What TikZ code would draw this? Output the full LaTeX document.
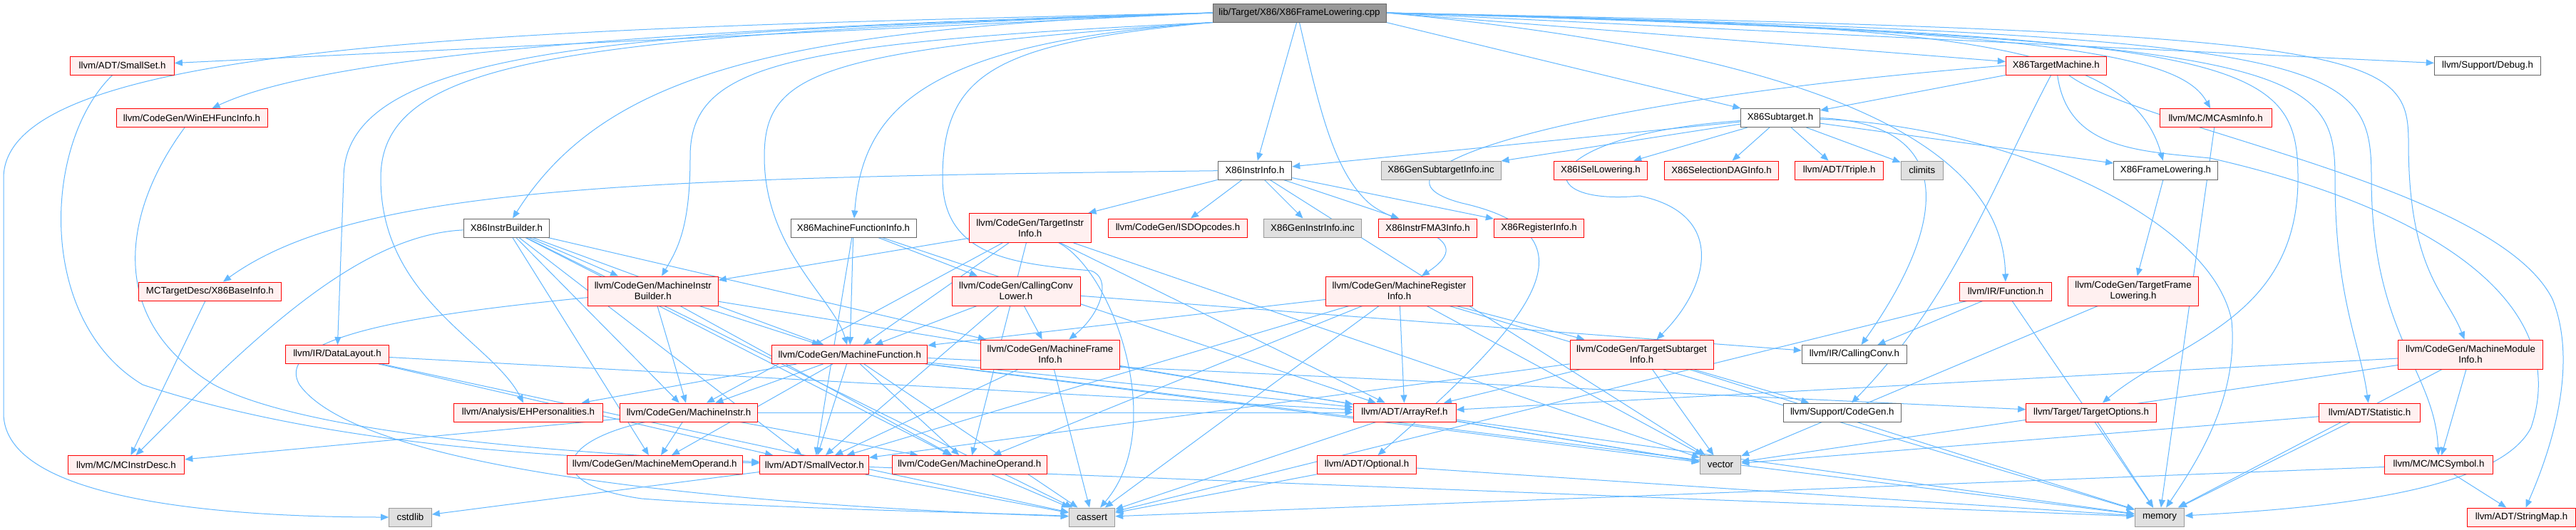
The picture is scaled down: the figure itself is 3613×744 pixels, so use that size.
\documentclass[tikz,border=0pt]{standalone}
\usepackage{fontspec}
\setmainfont{Liberation Sans}
\usetikzlibrary{arrows.meta,backgrounds}
\definecolor{edgec}{HTML}{63B8FF}
\definecolor{redb}{HTML}{FF0000}
\definecolor{redf}{HTML}{FFF0F0}
\definecolor{grayf}{HTML}{E0E0E0}
\definecolor{grayb}{HTML}{999999}
\definecolor{mainf}{HTML}{999999}
\definecolor{whiteb}{HTML}{666666}
\newcommand{\nodefontx}{\fontsize{13.3}{15}\selectfont}
\begin{document}
\begin{tikzpicture}[x=1pt,y=-1pt,
  box/.style={rectangle, minimum height=26pt, inner xsep=3pt, inner ysep=0pt, line width=1pt, font=\nodefontx, align=center, text=black},
  redbox/.style={box, draw=redb, fill=redf},
  whitebox/.style={box, draw=whiteb, fill=white},
  graybox/.style={box, draw=grayb, fill=grayf},
  mainbox/.style={box, draw=whiteb, fill=mainf},
  tall/.style={minimum height=41pt},
  e/.style={draw=edgec, line width=1pt, -{Triangle[length=11pt,width=9pt]}}]
\useasboundingbox (0,0) rectangle (3613,744);
% rank 0
\node[mainbox, minimum width=243pt] (main) at (1822.5,18) {lib/Target/X86/X86FrameLowering.cpp};
% rank 1
\node[redbox, minimum width=145.5pt] (smallset) at (171.6,92) {llvm/ADT/SmallSet.h};
\node[redbox, minimum width=141pt] (tm) at (2883.8,92) {X86TargetMachine.h};
\node[whitebox, minimum width=149.5pt] (debug) at (3489,92) {llvm/Support/Debug.h};
% rank 2
\node[redbox, minimum width=212pt] (wineh) at (269,165.5) {llvm/CodeGen/WinEHFuncInfo.h};
\node[whitebox, minimum width=111pt] (subtarget) at (2497,165.5) {X86Subtarget.h};
\node[redbox, minimum width=157pt] (mcasm) at (3107.6,165.5) {llvm/MC/MCAsmInfo.h};
% rank 3
\node[whitebox, minimum width=103.6pt] (instrinfo) at (1760,239) {X86InstrInfo.h};
\node[graybox, minimum width=168pt] (gensub) at (2021,239) {X86GenSubtargetInfo.inc};
\node[redbox, minimum width=130.5pt] (isel) at (2245,239) {X86ISelLowering.h};
\node[redbox, minimum width=160.7pt] (dag) at (2414.5,239) {X86SelectionDAGInfo.h};
\node[redbox, minimum width=123.8pt] (triple) at (2579.7,239) {llvm/ADT/Triple.h};
\node[graybox, minimum width=59.3pt] (climits) at (2695.7,239) {climits};
\node[whitebox, minimum width=145.7pt] (x86fl) at (3037.5,239) {X86FrameLowering.h};
% rank 4
\node[whitebox, minimum width=120.6pt] (instrbuilder) at (710.5,320) {X86InstrBuilder.h};
\node[whitebox, minimum width=176pt] (mfi) at (1197,320) {X86MachineFunctionInfo.h};
\node[redbox, tall, minimum width=171pt] (tii) at (1444.7,320) {llvm/CodeGen/TargetInstr\\Info.h};
\node[redbox, minimum width=194.5pt] (isd) at (1652,320) {llvm/CodeGen/ISDOpcodes.h};
\node[graybox, minimum width=137pt] (geninstr) at (1841,320) {X86GenInstrInfo.inc};
\node[redbox, minimum width=138pt] (fma3) at (2002.5,320) {X86InstrFMA3Info.h};
\node[redbox, minimum width=126.5pt] (reginfo) at (2158.6,320) {X86RegisterInfo.h};
% rank 5
\node[redbox, minimum width=199.7pt] (baseinfo) at (294.4,409) {MCTargetDesc/X86BaseInfo.h};
\node[redbox, tall, minimum width=183pt] (mib) at (915.8,408.5) {llvm/CodeGen/MachineInstr\\Builder.h};
\node[redbox, tall, minimum width=180pt] (cclower) at (1425,408.5) {llvm/CodeGen/CallingConv\\Lower.h};
\node[redbox, tall, minimum width=206.4pt] (mri) at (1962.5,408.5) {llvm/CodeGen/MachineRegister\\Info.h};
\node[redbox, minimum width=128.5pt] (function) at (2813,409) {llvm/IR/Function.h};
\node[redbox, tall, minimum width=182.4pt] (tfl) at (2992,408.5) {llvm/CodeGen/TargetFrame\\Lowering.h};
% rank 6
\node[redbox, minimum width=145pt] (datalayout) at (473,497.5) {llvm/IR/DataLayout.h};
\node[redbox, minimum width=218pt] (mf) at (1191.8,497.5) {llvm/CodeGen/MachineFunction.h};
\node[redbox, tall, minimum width=194.5pt] (mframe) at (1473,497.5) {llvm/CodeGen/MachineFrame\\Info.h};
\node[redbox, tall, minimum width=201pt] (tsi) at (2302.5,497.5) {llvm/CodeGen/TargetSubtarget\\Info.h};
\node[whitebox, minimum width=147.5pt] (callingconv) at (2601,497.5) {llvm/IR/CallingConv.h};
\node[redbox, tall, minimum width=202.4pt] (mmi) at (3465,497.5) {llvm/CodeGen/MachineModule\\Info.h};
% rank 7
\node[redbox, minimum width=208.4pt] (ehpers) at (741,579) {llvm/Analysis/EHPersonalities.h};
\node[redbox, minimum width=193pt] (minstr) at (966,579) {llvm/CodeGen/MachineInstr.h};
\node[redbox, minimum width=144pt] (arrayref) at (1970,579) {llvm/ADT/ArrayRef.h};
\node[whitebox, minimum width=164.5pt] (supcodegen) at (2583.8,579) {llvm/Support/CodeGen.h};
\node[redbox, minimum width=182.5pt] (topts) at (2933,579) {llvm/Target/TargetOptions.h};
\node[redbox, minimum width=141.5pt] (statistic) at (3323.5,579) {llvm/ADT/Statistic.h};
% rank 8
\node[redbox, minimum width=163.7pt] (mcinstrdesc) at (177,652.5) {llvm/MC/MCInstrDesc.h};
\node[redbox, minimum width=246pt] (mmo) at (918.3,652.5) {llvm/CodeGen/MachineMemOperand.h};
\node[redbox, minimum width=153pt] (smallvec) at (1142.3,652.5) {llvm/ADT/SmallVector.h};
\node[redbox, minimum width=217.5pt] (mop) at (1359.8,652.5) {llvm/CodeGen/MachineOperand.h};
\node[redbox, minimum width=139pt] (optional) at (1917,652.5) {llvm/ADT/Optional.h};
\node[graybox, minimum width=57.5pt] (vector) at (2413,652.5) {vector};
\node[redbox, minimum width=152pt] (mcsymbol) at (3420.5,652.5) {llvm/MC/MCSymbol.h};
% rank 9
\node[graybox, minimum width=59.7pt] (cstdlib) at (575.5,726) {cstdlib};
\node[graybox, minimum width=64.5pt] (cassert) at (1531.5,726) {cassert};
\node[graybox, minimum width=69.7pt] (memory) at (3029,726) {memory};
\node[redbox, minimum width=152pt] (stringmap) at (3536.5,726) {llvm/ADT/StringMap.h};

\begin{pgfonlayer}{background}
\fill[white] (0,0) rectangle (3613,744);
% ---- main
\draw[e] (main.west) -- (smallset);
\draw[e] (main.west) .. controls (900,40) and (450,80) .. (wineh);
\draw[e] (main.west) .. controls (700,40) and (5,60) .. (5,250) -- (5,580) .. controls (5,700) and (300,726) .. (cstdlib);
\draw[e] (main.west) .. controls (1100,40) and (850,100) .. (instrbuilder);
\draw[e] (main.west) .. controls (900,45) and (482,60) .. (482,250) -- (datalayout);
\draw[e] (main.west) .. controls (800,50) and (534,80) .. (534,250) .. controls (534,420) and (690,480) .. (ehpers);
\draw[e] (main.south west) .. controls (1300,60) and (1210,150) .. (mfi);
\draw[e] (main.south west) .. controls (1100,60) and (968,90) .. (968,220) .. controls (968,320) and (950,350) .. (mib);
\draw[e] (main.south west) .. controls (1150,70) and (1072,100) .. (1072,220) .. controls (1072,350) and (1170,420) .. (mf);
\draw[e] (main.south west) .. controls (1400,60) and (1322,100) .. (1322,250) .. controls (1322,360) and (1420,370) .. (1530,380) .. controls (1560,390) and (1545,440) .. (mframe);
\draw[e] (main) -- (instrinfo);
\draw[e] (main.south) .. controls (1850,150) and (1870,240) .. (1920,285) .. controls (1960,320) and (2080,330) .. (mri);
\draw[e] (main.south east) -- (subtarget);
\draw[e] (main.east) -- (tm);
\draw[e] (main.east) .. controls (2700,35) and (2985,50) .. (x86fl);
\draw[e] (main.east) .. controls (2600,80) and (2810,220) .. (function);
\draw[e] (main.east) .. controls (2900,40) and (3060,80) .. (mcasm);
\draw[e] (main.east) -- (debug);
\draw[e] (main.east) .. controls (3150,50) and (3223,80) .. (3223,250) .. controls (3223,450) and (3050,480) .. (topts);
\draw[e] (main.east) .. controls (3220,55) and (3275,90) .. (3275,250) .. controls (3275,420) and (3310,480) .. (statistic);
\draw[e] (main.east) .. controls (3280,50) and (3326,80) .. (3326,250) .. controls (3326,470) and (3415,520) .. (mcsymbol);
\draw[e] (main.east) .. controls (3330,45) and (3378,70) .. (3378,200) .. controls (3378,380) and (3430,410) .. (mmi);
% ---- smallset, wineh
\draw[e] (smallset) .. controls (60,200) and (50,450) .. (200,540) .. controls (500,640) and (900,645) .. (smallvec);
\draw[e] (wineh) .. controls (170,300) and (150,450) .. (300,540) .. controls (450,620) and (900,640) .. (smallvec);
% ---- X86InstrBuilder
\draw[e] (instrbuilder) .. controls (500,330) and (350,480) .. (mcinstrdesc);
\draw[e] (instrbuilder) -- (mf);
\draw[e] (instrbuilder) -- (minstr);
\draw[e] (instrbuilder) -- (mib);
\draw[e] (instrbuilder) -- (mmo);
\draw[e] (instrbuilder) -- (mop);
\draw[e] (instrbuilder) -- (smallvec);
\draw[e] (instrbuilder) -- (mframe);
\draw[e] (instrbuilder) -- (cassert);
% ---- X86MachineFunctionInfo
\draw[e] (mfi) -- (mf);
\draw[e] (mfi) -- (cclower);
\draw[e] (mfi) -- (arrayref);
\draw[e] (mfi) -- (smallvec);
% ---- X86InstrInfo
\draw[e] (instrinfo) .. controls (900,250) and (500,260) .. (baseinfo);
\draw[e] (instrinfo) -- (tii);
\draw[e] (instrinfo) -- (isd);
\draw[e] (instrinfo) -- (geninstr);
\draw[e] (instrinfo) -- (fma3);
\draw[e] (instrinfo) -- (reginfo);
\draw[e] (instrinfo) -- (vector);
% ---- TargetInstrInfo
\draw[e] (tii) -- (mib);
\draw[e] (tii) -- (mf);
\draw[e] (tii) -- (minstr);
\draw[e] (tii) -- (mop);
\draw[e] (tii) -- (arrayref);
\draw[e] (tii) .. controls (1560,380) and (1640,600) .. (cassert);
\draw[e] (tii) -- (vector);
% ---- X86Subtarget
\draw[e] (subtarget) -- (instrinfo);
\draw[e] (subtarget) -- (gensub);
\draw[e] (subtarget) -- (isel);
\draw[e] (subtarget) -- (dag);
\draw[e] (subtarget) -- (triple);
\draw[e] (subtarget) -- (climits);
\draw[e] (subtarget) -- (x86fl);
\draw[e] (subtarget.east) .. controls (2760,175) and (2720,330) .. (callingconv);
\draw[e] (subtarget) .. controls (2150,190) and (2140,290) .. (2300,275) .. controls (2420,300) and (2400,400) .. (tsi);
\draw[e] (subtarget) .. controls (2800,175) and (3100,300) .. (3130,450) .. controls (3140,560) and (3080,650) .. (memory);
% ---- X86TargetMachine
\draw[e] (tm) -- (subtarget);
\draw[e] (tm.west) .. controls (2200,140) and (1880,240) .. (2050,285) .. controls (2250,330) and (2150,450) .. (optional);
\draw[e] (tm) .. controls (2800,250) and (2740,420) .. (supcodegen);
\draw[e] (tm) .. controls (3000,180) and (3500,260) .. (3580,420) .. controls (3620,520) and (3570,650) .. (stringmap);
\draw[e] (tm) .. controls (2900,210) and (3000,212) .. (3100,222) .. controls (3400,290) and (3610,420) .. (3550,600) .. controls (3500,700) and (3200,716) .. (memory);
% ---- X86FrameLowering.h
\draw[e] (x86fl) -- (tfl);
% ---- X86BaseInfo, DataLayout
\draw[e] (baseinfo) -- (mcinstrdesc);
\draw[e] (datalayout) -- (arrayref);
\draw[e] (datalayout) -- (smallvec);
\draw[e] (datalayout) -- (cassert);
% ---- MachineInstrBuilder
\draw[e] (mib) -- (mf);
\draw[e] (mib) -- (minstr);
\draw[e] (mib) -- (mop);
\draw[e] (mib) -- (arrayref);
\draw[e] (mib) .. controls (600,440) and (380,470) .. (420,540) .. controls (520,680) and (1200,715) .. (cassert);
% ---- CallingConvLower
\draw[e] (cclower) -- (mf);
\draw[e] (cclower) -- (mframe);
\draw[e] (cclower) -- (smallvec);
\draw[e] (cclower) -- (callingconv);
% ---- MachineFrameInfo
\draw[e] (mframe) -- (smallvec);
\draw[e] (mframe) -- (cassert);
\draw[e] (mframe) -- (vector);
% ---- MachineRegisterInfo
\draw[e] (mri) -- (mf);
\draw[e] (mri) -- (smallvec);
\draw[e] (mri) -- (mop);
\draw[e] (mri) -- (cassert);
\draw[e] (mri) -- (arrayref);
\draw[e] (mri) -- (vector);
\draw[e] (mri) -- (memory);
\draw[e] (mri) -- (tsi);
% ---- TargetSubtargetInfo
\draw[e] (tsi) -- (arrayref);
\draw[e] (tsi) -- (smallvec);
\draw[e] (tsi) -- (vector);
\draw[e] (tsi) -- (memory);
\draw[e] (tsi) -- (supcodegen);
% ---- Function, TFL
\draw[e] (function) -- (callingconv);
\draw[e] (function) -- (cassert);
\draw[e] (function) -- (memory);
\draw[e] (tfl) -- (vector);
% ---- MachineFunction
\draw[e] (mf) -- (ehpers);
\draw[e] (mf) -- (minstr);
\draw[e] (mf) -- (mmo);
\draw[e] (mf) -- (smallvec);
\draw[e] (mf) -- (mop);
\draw[e] (mf) -- (arrayref);
\draw[e] (mf) -- (cassert);
\draw[e] (mf) -- (memory);
\draw[e] (mf) -- (vector);
\draw[e] (mf) -- (topts);
% ---- MachineInstr
\draw[e] (minstr) -- (mcinstrdesc);
\draw[e] (minstr) -- (mmo);
\draw[e] (minstr) -- (mop);
\draw[e] (minstr) -- (arrayref);
\draw[e] (minstr) .. controls (780,620) and (760,680) .. (900,700) .. controls (1100,715) and (1400,720) .. (cassert);
% ---- lower ones
\draw[e] (arrayref) -- (cassert);
\draw[e] (arrayref) -- (memory);
\draw[e] (arrayref) -- (vector);
\draw[e] (smallvec) -- (cstdlib);
\draw[e] (smallvec) -- (cassert);
\draw[e] (smallvec) -- (memory);
\draw[e] (mop) -- (cassert);
\draw[e] (optional) -- (cassert);
\draw[e] (optional) -- (memory);
\draw[e] (topts) -- (memory);
\draw[e] (mmi) -- (arrayref);
\draw[e] (mmi) -- (vector);
\draw[e] (mmi) -- (mcsymbol);
\draw[e] (mmi) -- (memory);
\draw[e] (statistic) -- (vector);
\draw[e] (statistic) -- (memory);
\draw[e] (mcsymbol) -- (stringmap);
\draw[e] (mcsymbol) -- (cassert);
\draw[e] (mcasm) -- (memory);
\end{pgfonlayer}
\end{tikzpicture}
\end{document}
